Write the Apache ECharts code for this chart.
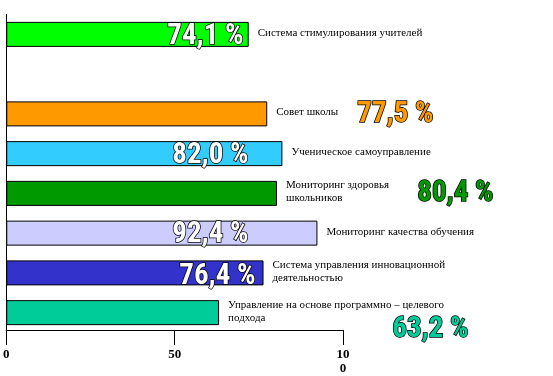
<!DOCTYPE html>
<html>
<head>
<meta charset="utf-8">
<script src="https://cdn.jsdelivr.net/npm/echarts@6/dist/echarts.min.js"></script>
<style>
html, body { margin: 0; padding: 0; background: #fff; }
#chart { width: 553px; height: 376px; }
</style>
</head>
<body>
<div id="chart"></div>
<script>
// направления (пустая строка - пропуск между первым и вторым столбиком)
var categories = [
  'Система стимулирования учителей',
  '',
  'Совет школы',
  'Ученическое самоуправление',
  'Мониторинг здоровья\nшкольников',
  'Мониторинг качества обучения',
  'Система управления инновационной\nдеятельностью',
  'Управление на основе программно – целевого\nподхода'
];
// длина столбиков по шкале
var values = [72.0, null, 77.5, 82.0, 80.4, 92.4, 76.4, 63.2];
// подписи процентов
var percentText = ['74,1 %', '', '77,5 %', '82,0 %', '80,4 %', '92,4 %', '76,4 %', '63,2 %'];
var xTicks = [0, 50, 100];

var colors = ['#00ff00', '#ffffff', '#ff9900', '#33ccff', '#009900', '#ccccff', '#3333cc', '#00cc99'];
// положение подписей процентов от начала столбика
var percentPos = [[161, 0], [0, 0], [351, -1], [166, 0], [411, -2], [166, 0], [173, 2], [386, 15]];
var insideBar = [true, false, false, true, false, true, true, false];

var chart = echarts.init(document.getElementById('chart'));

var barData = values.map(function (v, i) {
  return {
    value: v,
    itemStyle: { color: colors[i] },
    label: {
      position: percentPos[i],
      color: insideBar[i] ? '#ffffff' : colors[i]
    }
  };
});

chart.setOption({
  animation: false,
  grid: { left: 6, right: 210, top: 14.5, height: 320 },
  xAxis: {
    type: 'value',
    min: xTicks[0],
    max: xTicks[xTicks.length - 1],
    interval: xTicks[1] - xTicks[0],
    offset: -2.5,
    splitLine: { show: false },
    axisLine: { show: true, lineStyle: { color: '#000', width: 1 } },
    axisTick: { show: true, length: 15, lineStyle: { color: '#000' } },
    axisLabel: {
      color: '#000',
      fontFamily: 'Liberation Serif',
      fontWeight: 'bold',
      fontSize: 13,
      lineHeight: 14,
      margin: 18,
      formatter: function (v) {
        return v === 100 ? '10\n0' : String(v);
      }
    }
  },
  yAxis: {
    type: 'category',
    inverse: true,
    data: categories,
    axisLine: { show: true, lineStyle: { color: '#000', width: 1 } },
    axisTick: { show: false },
    axisLabel: { show: false }
  },
  series: [
    {
      type: 'bar',
      barWidth: 25,
      data: barData,
      itemStyle: { borderColor: '#000', borderWidth: 1 },
      label: {
        show: true,
        align: 'left',
        verticalAlign: 'top',
        fontFamily: 'Roboto',
        fontStyle: 'condensed',
        fontWeight: 'bold',
        fontSize: 29,
        textBorderColor: '#000',
        textBorderWidth: 1.5,
        textShadowColor: '#000',
        textShadowBlur: 0,
        textShadowOffsetX: 2,
        textShadowOffsetY: 2,
        formatter: function (p) {
          return percentText[p.dataIndex];
        }
      }
    },
    {
      type: 'bar',
      barWidth: 25,
      barGap: '-100%',
      silent: true,
      data: values,
      itemStyle: { color: 'rgba(0,0,0,0)', borderWidth: 0 },
      label: {
        show: true,
        position: 'right',
        distance: 9,
        offset: [0, -1.5],
        color: '#000',
        fontFamily: 'Liberation Serif',
        fontSize: 11,
        lineHeight: 13,
        formatter: function (p) {
          return categories[p.dataIndex];
        }
      }
    }
  ]
});
</script>
</body>
</html>
